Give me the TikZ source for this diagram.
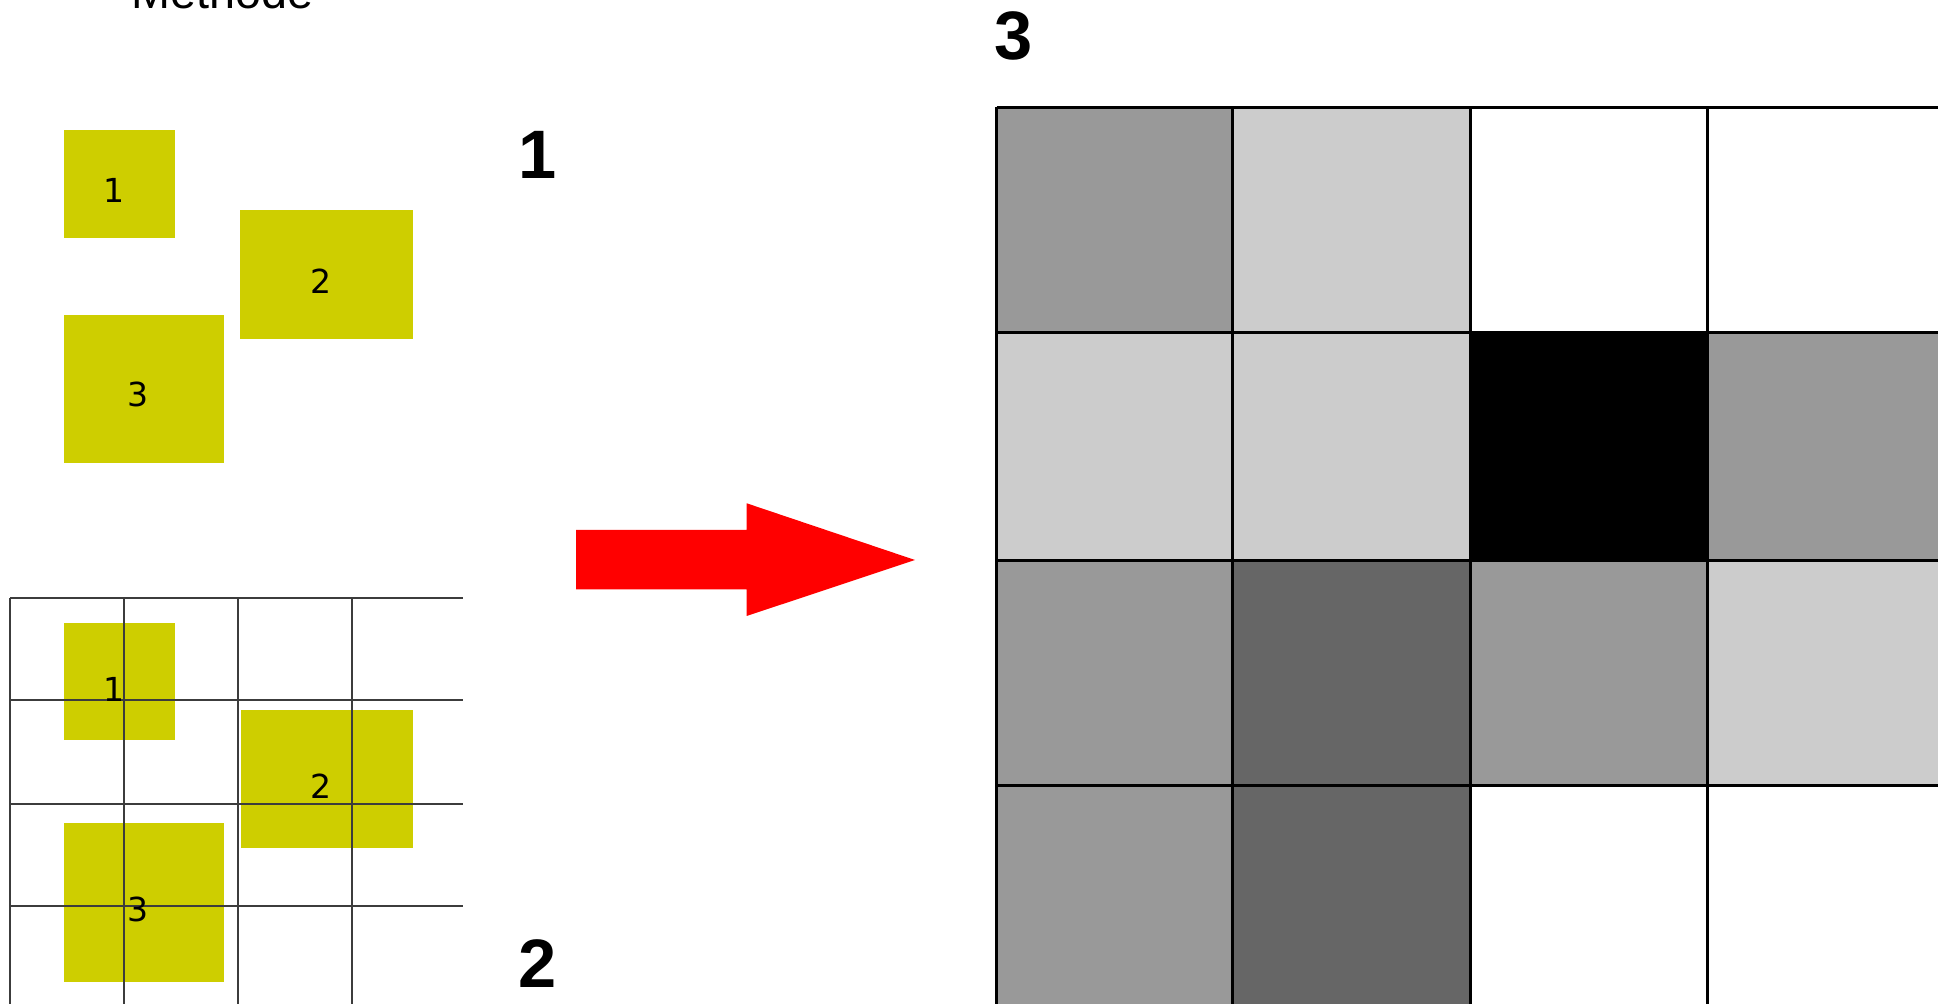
\documentclass[tikz,border=0pt]{standalone}
\usepackage{fontspec}
\setmainfont{Liberation Sans}
\newfontfamily\dvs{DejaVu Sans}
\definecolor{boxyellow}{RGB}{206,206,0}
\definecolor{gridgray}{RGB}{60,60,60}
\definecolor{gA}{RGB}{153,153,153}
\definecolor{gB}{RGB}{204,204,204}
\definecolor{gC}{RGB}{102,102,102}
\definecolor{arrowred}{RGB}{255,0,0}
\tikzset{
  ybox/.style={fill=boxyellow},
  smalllabel/.style={anchor=base, inner sep=0pt, font=\dvs\fontsize{9.4}{10}\selectfont},
  biglabel/.style={anchor=base, inner sep=0pt, font=\fontsize{19.5}{22}\selectfont\bfseries},
  smallgrid/.style={draw=gridgray, line width=0.6pt},
  biggrid/.style={draw=black, line width=0.85pt}
}
\begin{document}
\begin{tikzpicture}[x=0.01cm, y=-0.01cm]
\useasboundingbox (0,0) rectangle (1945,1004);
\clip (0,0) rectangle (1945,1004);
\fill[white] (0,0) rectangle (1945,1004);

% title (cut at top)
\node[anchor=base, inner sep=0pt, font=\fontsize{13.3}{15}\selectfont] (title) at (222.5,8.5) {Methode};

% top set of boxes
\fill[ybox] (63.9,130) rectangle (174.5,237.7);
\fill[ybox] (240.3,210.3) rectangle (412.5,338.7);
\fill[ybox] (63.9,315.3) rectangle (223.5,463);
\node[smalllabel] (t1) at (114,203) {1};
\node[smalllabel] (t2) at (321.5,294) {2};
\node[smalllabel] (t3) at (138.5,407) {3};

% bottom set with grid
\fill[ybox] (63.9,623.3) rectangle (174.5,740.3);
\fill[ybox] (240.7,710.3) rectangle (412.5,848.3);
\fill[ybox] (63.9,823.3) rectangle (223.5,982.3);
\foreach \y in {597.7,700,803.7,906} \draw[smallgrid] (10.3,\y) -- (463,\y);
\foreach \x in {10.3,124,238,351.7} \draw[smallgrid] (\x,597.7) -- (\x,1010);
\node[smalllabel] (g1) at (114.5,702) {1};
\node[smalllabel] (g2) at (321.5,799) {2};
\node[smalllabel] (g3) at (138.5,922) {3};

% step numbers
\node[biglabel] (n1) at (538,179) {1};
\node[biglabel] (n2) at (538,988) {2};
\node[biglabel] (n3) at (1014,59.3) {3};

% red arrow
\fill[arrowred] (576,530) -- (746.7,530) -- (746.7,503.3) -- (915,560) -- (746.7,616) -- (746.7,589.3) -- (576,589.3) -- cycle;

% big grid cells
% row 1
\fill[gA] (996.7,107.3) rectangle (1232.6,332.3);
\fill[gB] (1232.6,107.3) rectangle (1470,332.3);
% row 2
\fill[gB] (996.7,332.3) rectangle (1232.6,560.3);
\fill[gB] (1232.6,332.3) rectangle (1470,560.3);
\fill[black] (1470,332.3) rectangle (1707.3,560.3);
\fill[gA] (1707.3,332.3) rectangle (1938,560.3);
% row 3
\fill[gA] (996.7,560.3) rectangle (1232.6,785.3);
\fill[gC] (1232.6,560.3) rectangle (1470,785.3);
\fill[gA] (1470,560.3) rectangle (1707.3,785.3);
\fill[gB] (1707.3,560.3) rectangle (1938,785.3);
% row 4
\fill[gA] (996.7,785.3) rectangle (1232.6,1012);
\fill[gC] (1232.6,785.3) rectangle (1470,1012);
% grid lines
\foreach \y in {107.3,332.3,560.3,785.3} \draw[biggrid] (996.7,\y) -- (1938,\y);
\foreach \x in {996.7,1232.6,1470,1707.3} \draw[biggrid] (\x,107.3) -- (\x,1012);
\end{tikzpicture}
\end{document}
